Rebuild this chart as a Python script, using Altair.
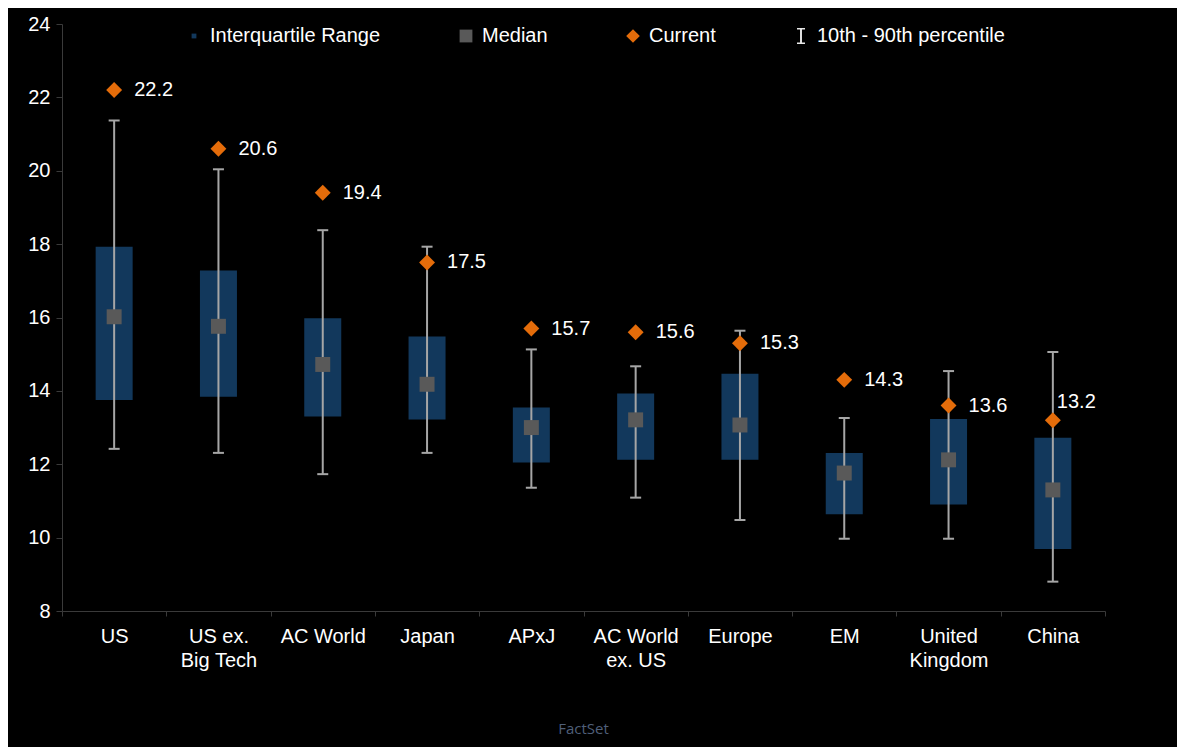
import altair as alt
import pandas as pd

regions = ["US", "US ex.\nBig Tech", "AC World", "Japan", "APxJ",
           "AC World\nex. US", "Europe", "EM", "United\nKingdom", "China"]
p10 = [12.42, 12.31, 11.73, 12.31, 11.36, 11.09, 10.48, 9.97, 9.97, 8.80]
p90 = [21.37, 20.04, 18.38, 17.93, 15.13, 14.67, 15.64, 13.26, 14.54, 15.06]
q1 = [13.75, 13.84, 13.30, 13.22, 12.05, 12.12, 12.12, 10.64, 10.90, 9.69]
q3 = [17.93, 17.28, 15.98, 15.48, 13.55, 13.93, 14.47, 12.31, 13.23, 12.72]
median = [16.02, 15.76, 14.72, 14.18, 13.00, 13.21, 13.07, 11.76, 12.12, 11.30]
current = [22.2, 20.6, 19.4, 17.5, 15.7, 15.6, 15.3, 14.3, 13.6, 13.2]

series_names = ["Interquartile Range", "Median", "Current", "10th - 90th percentile"]
series_colors = ["#12385c", "#595959", "#e46c0a", "#e8e8e8"]
series_shapes = [
    "M-0.3,-0.3H0.3V0.3H-0.3Z",
    "M-0.8,-0.8H0.8V0.8H-0.8Z",
    "M-0.85,0L0,-0.85L0.85,0L0,0.85Z",
    "M-0.5,-1H0.5V-0.82H0.12V0.82H0.5V1H-0.5V0.82H-0.12V-0.82H-0.5Z",
]

df = pd.DataFrame({"region": regions, "p10": p10, "p90": p90, "q1": q1,
                   "q3": q3, "median": median, "current": current})
pts = pd.concat([
    pd.DataFrame({"region": regions, "series": "Median", "value": median}),
    pd.DataFrame({"region": regions, "series": "Current", "value": current}),
])

FONT = "Liberation Sans"
x_enc = alt.X("region:N", sort=regions, title=None,
              scale=alt.Scale(paddingInner=0, paddingOuter=0),
              axis=alt.Axis(labelExpr="split(datum.label, '\\n')", labelAngle=0,
                            labelFontSize=20, labelColor="#ffffff", labelFont=FONT,
                            labelLineHeight=24, labelPadding=10, tickBand="extent",
                            tickSize=5, tickColor="#3a3a3a", domainColor="#3a3a3a",
                            labelBaseline="top"))
y_scale = alt.Scale(domain=[8, 24], nice=False, zero=False)
y_axis = alt.Axis(values=list(range(8, 25, 2)), labelFontSize=20, labelColor="#ffffff",
                  labelFont=FONT, tickSize=6, tickColor="#3a3a3a", domainColor="#3a3a3a",
                  labelPadding=6, grid=False, title=None)

base = alt.Chart(df)
box = base.mark_bar(width=37, color="#12385c").encode(
    x=x_enc, y=alt.Y("q1:Q", scale=y_scale, axis=y_axis), y2="q3:Q")
whisker = base.mark_rule(color="#a6a6a6", strokeWidth=2).encode(
    x=x_enc, y="p10:Q", y2="p90:Q")
cap_lo = base.mark_tick(color="#a6a6a6", thickness=2, size=11, orient="horizontal", opacity=1).encode(
    x=x_enc, y="p10:Q")
cap_hi = base.mark_tick(color="#a6a6a6", thickness=2, size=11, orient="horizontal", opacity=1).encode(
    x=x_enc, y="p90:Q")

leg = alt.Legend(title=None, orient="none", direction="horizontal", legendX=122, legendY=2,
                 labelFontSize=20, labelColor="#ffffff", labelFont=FONT, columnPadding=75,
                 symbolStrokeWidth=0, labelOffset=6, labelLimit=400, symbolSize=256)
points = alt.Chart(pts).mark_point(filled=True, opacity=1, strokeWidth=0, size=350).encode(
    x=x_enc, y="value:Q",
    color=alt.Color("series:N", scale=alt.Scale(domain=series_names, range=series_colors), legend=leg),
    shape=alt.Shape("series:N", scale=alt.Scale(domain=series_names, range=series_shapes), legend=leg),
)

labels = base.mark_text(align="left", baseline="middle", dx=20, fontSize=20,
                        color="#ffffff", font=FONT).encode(
    x=x_enc, y="current:Q", text=alt.Text("current:Q", format=".1f")
).transform_filter(alt.datum.region != "China")
labels_china = base.mark_text(align="left", baseline="middle", dx=4, dy=-18, fontSize=20,
                              color="#ffffff", font=FONT).encode(
    x=x_enc, y="current:Q", text=alt.Text("current:Q", format=".1f")
).transform_filter(alt.datum.region == "China")

chart = alt.layer(box, whisker, cap_lo, cap_hi, points, labels, labels_china).properties(
    width=1043, height=587, background="#000000",
    autosize=alt.AutoSizeParams(type="none"),
    padding={"left": 54, "top": 16, "right": 72, "bottom": 136},
    title=alt.TitleParams("FactSet", orient="bottom", anchor="middle", fontSize=15,
                          color="#4f5f78", font="Open Sans", fontWeight="normal", offset=52),
).configure_view(stroke=None)

chart.save("out.html", embed_options={"renderer": "svg", "actions": False})
